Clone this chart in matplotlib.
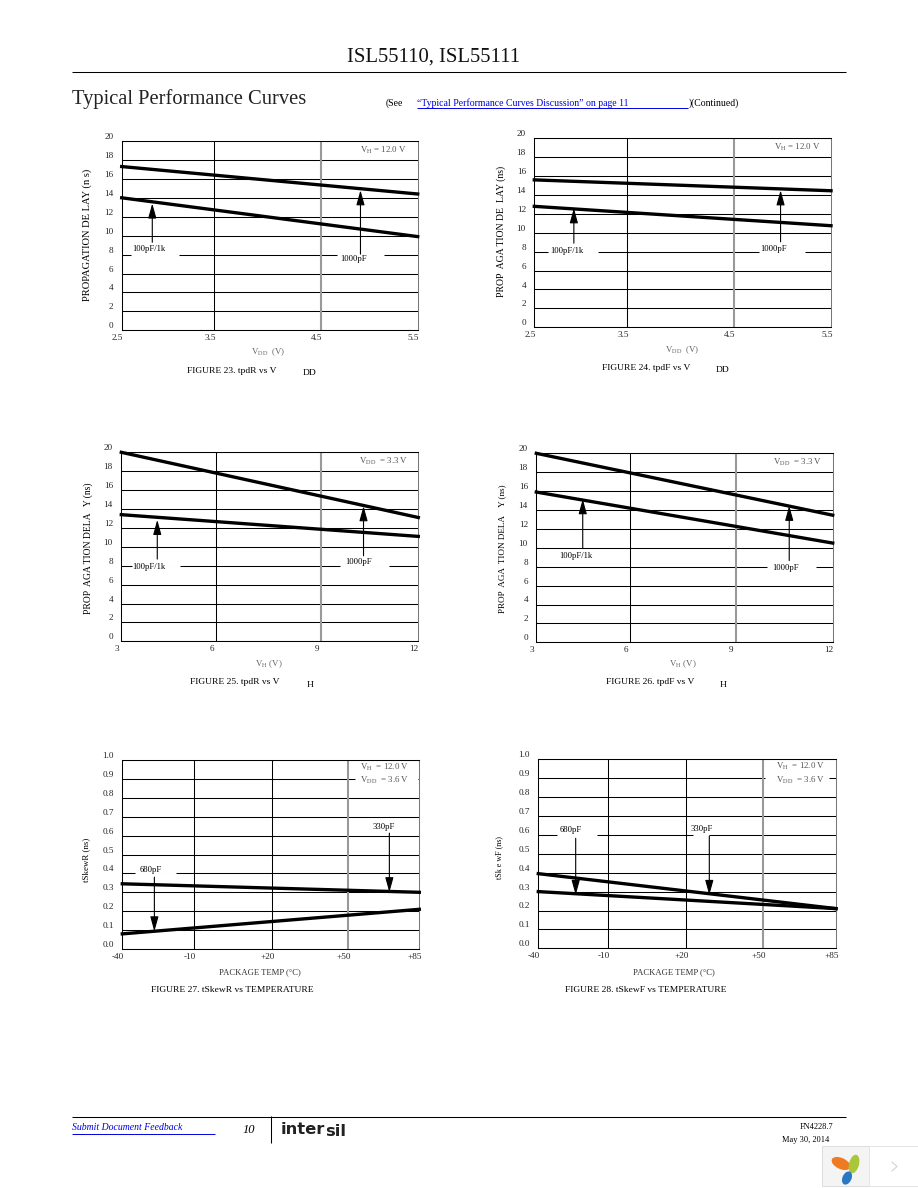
import matplotlib
matplotlib.use("Agg")
import matplotlib.pyplot as plt
from matplotlib.patches import Ellipse, Rectangle
from matplotlib.transforms import ScaledTranslation

plt.rcParams["font.family"] = ["Liberation Serif", "DejaVu Serif"]
plt.rcParams["mathtext.fontset"] = "stix"

W, H = 918, 1188
BLUE = "#0000e0"
GREY = "#666666"

# =========================
# DATA
# =========================
vdd_range = [2.5, 5.5]
vh_range = [3, 12]
temp_range = [-40, 85]

ns_ticks = [0, 2, 4, 6, 8, 10, 12, 14, 16, 18, 20]
skew_ticks = [0.0, 0.1, 0.2, 0.3, 0.4, 0.5, 0.6, 0.7, 0.8, 0.9, 1.0]
skew_labels = ["0.0", "0.1", "0.2", "0.3", "0.4", "0.5", "0.6", "0.7", "0.8", "0.9", "1.0"]

vdd_labels = ["2.5", "3.5", "4.5", "5.5"]
vh_labels = ["3", "6", "9", "12"]
temp_labels = ["-40", "-10", "+20", "+50", "+85"]

# the grid of the original is not evenly spaced
fig23_grid = [2.5, 3.44, 4.52, 5.5]
fig24_grid = [2.5, 3.44, 4.52, 5.5]
fig25_grid = [3, 5.86, 9.05, 12]
fig26_grid = [3, 5.84, 9.05, 12]
fig27_grid = [-40, -10, 22.9, 55, 85]
fig28_grid = [-40, -10.6, 22.1, 54.2, 85]

fig23_upper = [17.3, 14.4]
fig23_lower = [14.0, 9.9]
fig24_upper = [15.6, 14.45]
fig24_lower = [12.8, 10.75]
fig25_upper = [20.0, 13.1]
fig25_lower = [13.4, 11.1]
fig26_upper = [20.0, 13.45]
fig26_lower = [15.9, 10.5]
fig27_upper = [0.345, 0.30]
fig27_lower = [0.08, 0.21]
fig28_upper = [0.395, 0.21]
fig28_lower = [0.30, 0.21]

# label, label x, label y, arrow x, arrow tip, arrow tail, white gap in the grid line
fig23_notes = [("100pF/1k", 2.78, 8.6, 2.81, 13.4, 9.3, (8, 2.59, 3.08)),
               ("1000pF", 4.85, 7.55, 4.92, 14.8, 8.05, (8, 4.68, 5.16))]
fig24_notes = [("100pF/1k", 2.83, 8.1, 2.90, 12.6, 8.9, (8, 2.64, 3.14)),
               ("1000pF", 4.92, 8.3, 4.99, 14.5, 9.05, (8, 4.77, 5.24))]
fig25_notes = [("100pF/1k", 3.84, 7.85, 4.09, 12.85, 8.7, (8, 3.31, 4.78)),
               ("1000pF", 10.18, 8.4, 10.34, 14.3, 9.05, (8, 9.63, 11.12))]
fig26_notes = [("100pF/1k", 4.19, 9.15, 4.41, 15.15, 9.95, None),
               ("1000pF", 10.57, 7.85, 10.68, 14.45, 8.65, (8, 9.99, 11.49))]
fig27_notes = [("680pF", -28.2, 0.42, -26.5, 0.093, 0.38, (0.4, -34.6, -17.4)),
               ("330pF", 69.9, 0.648, 72.4, 0.30, 0.613, None)]
fig28_notes = [("680pF", -26.5, 0.626, -24.3, 0.282, 0.582, (0.6, -32.3, -15.4)),
               ("330pF", 28.6, 0.63, 31.8, 0.282, 0.594, (0.6, 24.8, 31.8))]

vh_120 = r"V$_{\mathrm{H}}$ = 12.0 V"
vdd_33 = r"V$_{\mathrm{DD}}$  = 3.3 V"
vh_vdd = "V$_{\\mathrm{H}}$  = 12.0 V\nV$_{\\mathrm{DD}}$  = 3.6 V"

# =========================
# PAGE
# =========================
fig = plt.figure(figsize=(W / 100, H / 100), dpi=100, facecolor="white")

page = fig.add_axes([0, 0, 1, 1], zorder=5)
page.set_xlim(0, W)
page.set_ylim(H, 0)
page.axis("off")
page.patch.set_alpha(0)


def put(x, y, s, size=6.8, ha="left", va="center", **kw):
    return page.text(x, y, s, fontsize=size, ha=ha, va=va, **kw)


def rule(xs, ys, color="black", lw=0.75):
    page.plot(xs, ys, color=color, lw=lw, solid_capstyle="butt")


put(434, 57, "ISL55110, ISL55111", size=14.9, ha="center", color="#111111")
rule([72, 846], [72, 72])
put(72, 99, "Typical Performance Curves", size=14.8, color="#222222")
put(386, 103, "(See", size=7)
put(417, 103, "\u201cTypical Performance Curves Discussion\u201d on page 11", size=7, color=BLUE)
rule([417, 688], [107.5, 107.5], color=BLUE, lw=0.7)
put(689, 103, ")(Continued)", size=7)

rule([72, 846], [1116.5, 1116.5])
rule([270.5, 270.5], [1116, 1143])
put(72, 1128, "Submit Document Feedback", size=7, color=BLUE, style="italic")
rule([72, 215], [1133.5, 1133.5], color=BLUE, lw=0.7)
put(243, 1130, "10", size=9, style="italic")
put(281, 1129, "inter", size=11.8, family="DejaVu Sans", weight="bold", color="#222222")
put(325, 1132, "sil", size=11.8, family="DejaVu Sans", weight="bold", color="#222222")
put(833, 1127, "FN4228.7", size=6, ha="right")
put(829, 1140, "May 30, 2014", size=6, ha="right")

# widget in the corner
page.add_patch(Rectangle((822, 1146), 47, 40, fc="#f4f4f4", ec="#dddddd", lw=0.7))
page.add_patch(Rectangle((869, 1146), 49, 40, fc="white", ec="#e4e4e4", lw=0.7))
page.add_patch(Ellipse((841, 1163.5), 20, 11, angle=25, fc="#ee7a22", ec="none"))
page.add_patch(Ellipse((854, 1164), 10, 19, angle=15, fc="#a8c73a", ec="none"))
page.add_patch(Ellipse((847, 1178), 9, 14, angle=25, fc="#2a78c2", ec="none"))
page.plot([892, 897, 892], [1162, 1166.5, 1171], color="#cccccc", lw=0.7)


# =========================
# PANELS
# =========================
def panel(box, xr, yticks, ylabels, grid, xlabels, upper, lower, notes, cond, cond_y, gap=None):
    l, t, r, b = box
    ax = fig.add_axes([l / W, 1 - b / H, (r - l) / W, (b - t) / H])
    ax.set_xlim(xr)
    ax.set_ylim(yticks[0], yticks[-1])

    ax.set_yticks(yticks, ylabels)
    ax.set_xticks(grid, xlabels)
    ax.tick_params(length=0, labelsize=6.6, colors="#222222")
    ax.tick_params(axis="x", pad=3)
    ax.tick_params(axis="y", pad=6)
    ax.grid(axis="y", color="black", lw=0.75, zorder=1)
    for s in ax.spines.values():
        s.set_linewidth(0.75)
    ax.spines["right"].set_color("#777777")
    ax.set_axisbelow(True)

    for x in grid[1:-2]:
        ax.axvline(x, color="black", lw=0.75, zorder=1)
    ax.axvline(grid[-2], color="#999999", lw=1.5, zorder=1)

    shift = ScaledTranslation(-3 / 72, 0, fig.dpi_scale_trans)
    for lab in ax.get_xticklabels():
        lab.set_transform(lab.get_transform() + shift)
    for lab in ax.get_yticklabels():
        lab.set_va("bottom")

    for y, x0, x1 in [n[6] for n in notes if n[6]] + ([gap] if gap else []):
        ax.plot([x0, x1], [y, y], color="white", lw=2, zorder=2, solid_capstyle="butt")

    for vals in (upper, lower):
        ax.plot(xr, vals, color="black", lw=2.4, zorder=3, clip_on=False, solid_capstyle="projecting")

    for text, tx, ty, ax_x, tip, tail, _ in notes:
        ax.annotate("", xy=(ax_x, tip), xytext=(ax_x, tail), zorder=4,
                    arrowprops=dict(arrowstyle="-|>,head_length=0.9,head_width=0.25", mutation_scale=10,
                                    lw=0.8, color="black", shrinkA=0, shrinkB=0))
        ax.text(tx, ty, text, fontsize=6.2, ha="center", va="center", zorder=5)

    ax.text(0.965, cond_y, cond, transform=ax.transAxes, fontsize=6.4, ha="right", va="center",
            color="#555555", zorder=5, linespacing=1.25)
    return ax


panel((121.7, 141, 417.7, 330.3), vdd_range, ns_ticks, ns_ticks, fig23_grid, vdd_labels,
      fig23_upper, fig23_lower, fig23_notes, vh_120, 0.95)
panel((534.3, 138.3, 831, 327.3), vdd_range, ns_ticks, ns_ticks, fig24_grid, vdd_labels,
      fig24_upper, fig24_lower, fig24_notes, vh_120, 0.95)
panel((121.3, 452.3, 418.3, 641.3), vh_range, ns_ticks, ns_ticks, fig25_grid, vh_labels,
      fig25_upper, fig25_lower, fig25_notes, vdd_33, 0.95)
panel((536.3, 453.3, 832.7, 642.3), vh_range, ns_ticks, ns_ticks, fig26_grid, vh_labels,
      fig26_upper, fig26_lower, fig26_notes, vdd_33, 0.95)
panel((122.3, 760, 419.3, 949), temp_range, skew_ticks, skew_labels, fig27_grid, temp_labels,
      fig27_upper, fig27_lower, fig27_notes, vh_vdd, 0.925, gap=(0.9, 57.9, 84.3))
panel((538.3, 759.3, 836, 948.3), temp_range, skew_ticks, skew_labels, fig28_grid, temp_labels,
      fig28_upper, fig28_lower, fig28_notes, vh_vdd, 0.925, gap=(0.9, 55.3, 82))

# axis titles
put(87, 235, "PROPAGATION DE LAY (n s)", ha="center", rotation=90, size=7.6)
put(500.7, 231, "PROP  AGA TION DE  LAY (ns)", ha="center", rotation=90, size=7)
put(88.3, 548, "PROP  AGA TION DELA   Y (ns)", ha="center", rotation=90, size=6.9)
put(502.3, 549, "PROP  AGA  TION DELA    Y (ns)", ha="center", rotation=90, size=6.6)
put(86, 860, "tSkewR (ns)", ha="center", rotation=90, size=6.4)
put(499, 858, "tSk e wF (ns)", ha="center", rotation=90, size=5.8)

put(268, 352, "V$_{\\mathrm{DD}}$  (V)", ha="center", color=GREY, size=6.4)
put(681.7, 350, "V$_{\\mathrm{DD}}$  (V)", ha="center", color=GREY, size=6.4)
put(269, 664, "V$_{\\mathrm{H}}$ (V)", ha="center", color=GREY, size=6.4)
put(683, 664, "V$_{\\mathrm{H}}$ (V)", ha="center", color=GREY, size=6.4)
put(260, 972, "PACKAGE TEMP (\u00b0C)", ha="center", size=6.2, color="#333333")
put(674, 972, "PACKAGE TEMP (\u00b0C)", ha="center", size=6.2, color="#333333")

# captions
put(186.7, 370.7, "FIGURE 23. tpdR vs V")
put(302.7, 373, "DD")
put(602, 367.7, "FIGURE 24. tpdF vs V")
put(716, 370, "DD")
put(190, 681.7, "FIGURE 25. tpdR vs V")
put(307, 685, "H")
put(606, 682, "FIGURE 26. tpdF vs V")
put(720, 685, "H")
put(150.7, 990, "FIGURE 27. tSkewR vs TEMPERATURE")
put(565, 990, "FIGURE 28. tSkewF vs TEMPERATURE")

fig.savefig("out.png", dpi=100)
